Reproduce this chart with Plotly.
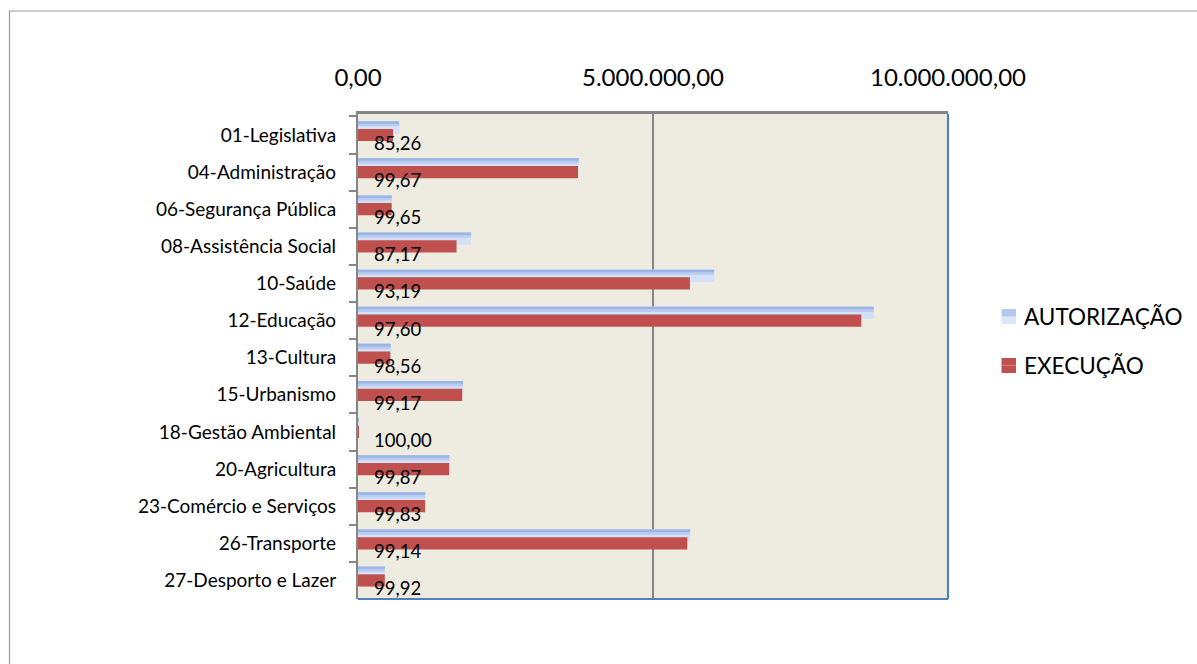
import plotly.graph_objects as go

categories = [
    "01-Legislativa", "04-Administração", "06-Segurança Pública",
    "08-Assistência Social", "10-Saúde", "12-Educação", "13-Cultura",
    "15-Urbanismo", "18-Gestão Ambiental", "20-Agricultura",
    "23-Comércio e Serviços", "26-Transporte", "27-Desporto e Lazer",
]
autorizacao = [697000, 3741000, 573000, 1916000, 6037000, 8741000, 556000,
               1781000, 1500, 1548000, 1139000, 5629000, 454000]
execucao = [594000, 3729000, 571000, 1670000, 5626000, 8531000, 548000,
            1766000, 1500, 1546000, 1137000, 5581000, 454000]
percentuais = ["85,26", "99,67", "99,65", "87,17", "93,19", "97,60", "98,56",
               "99,17", "100,00", "99,87", "99,83", "99,14", "99,92"]
x_ticks = [0, 5000000, 10000000]
x_tick_labels = ["0,00", "5.000.000,00", "10.000.000,00"]
series_names = ["AUTORIZAÇÃO", "EXECUÇÃO"]

FONT = "Lato"
GRAY = "#868686"
BLUE_EDGE = "#4f81bd"
RED = "#c0504d"

W, H = 1197, 664
L, R, T, B = 358, 249, 114, 65
pw, ph = W - L - R, H - T - B

def px_x(p):
    return (p - L) / pw

def px_y(p):
    return (H - B - p) / ph

fig = go.Figure()

# AUTORIZAÇÃO bar (gradient simulated with stacked strips)
fig.add_trace(go.Bar(
    y=categories, x=autorizacao, orientation="h", name=series_names[0],
    marker=dict(color="#d3e0f6", line=dict(width=0)),
    offset=-0.373, width=0.33, showlegend=False, hoverinfo="x+name",
))
fig.add_trace(go.Bar(
    y=categories, x=autorizacao, orientation="h", showlegend=False,
    marker=dict(color="#b9ccf0", line=dict(width=0)),
    offset=-0.373, width=0.14, hoverinfo="skip",
))
fig.add_trace(go.Bar(
    y=categories, x=autorizacao, orientation="h", showlegend=False,
    marker=dict(color="#9bb6e6", line=dict(width=0)),
    offset=-0.373, width=0.07, hoverinfo="skip",
))
# EXECUÇÃO bar
fig.add_trace(go.Bar(
    y=categories, x=execucao, orientation="h", name=series_names[1],
    marker=dict(color=RED, line=dict(width=0)),
    offset=-0.165, width=0.33, showlegend=False, hoverinfo="x+name",
))

annotations = []
for cat, pct in zip(categories, percentuais):
    annotations.append(dict(
        x=0, y=cat, xref="x", yref="y", text=pct, showarrow=False,
        xanchor="left", yanchor="middle", xshift=14, yshift=-8,
        font=dict(family=FONT, size=18.5, color="#000000"),
    ))

# legend (drawn as shapes + text)
legend_rows = [(316.5, "#b3c8ef", "#dbe6f8"), (365.5, RED, RED)]
shapes = []
for (cy, c_top, c_bot), name in zip(legend_rows, series_names):
    shapes.append(dict(type="rect", xref="paper", yref="paper",
                       x0=px_x(1001.5), x1=px_x(1016), y0=px_y(cy + 7.5), y1=px_y(cy),
                       line=dict(width=0), fillcolor=c_bot))
    shapes.append(dict(type="rect", xref="paper", yref="paper",
                       x0=px_x(1001.5), x1=px_x(1016), y0=px_y(cy), y1=px_y(cy - 7.5),
                       line=dict(width=0), fillcolor=c_top))
    annotations.append(dict(
        x=px_x(1022), y=px_y(cy), xref="paper", yref="paper", text=name,
        showarrow=False, xanchor="left", yanchor="middle",
        font=dict(family=FONT, size=22.5, color="#000000"),
    ))

shapes += [
    # outer chart border
    dict(type="rect", xref="paper", yref="paper",
         x0=px_x(9.5), x1=px_x(1210), y0=px_y(11), y1=px_y(690),
         line=dict(color="#9a9a9a", width=1.2), fillcolor="rgba(0,0,0,0)",
         layer="below"),
    # right and bottom blue edges of plot area
    dict(type="line", xref="paper", yref="paper", x0=1, x1=1, y0=0, y1=1,
         line=dict(color=BLUE_EDGE, width=2.2)),
    dict(type="line", xref="paper", yref="paper", x0=0, x1=1, y0=0, y1=0,
         line=dict(color=BLUE_EDGE, width=2.2)),
]

fig.update_layout(
    width=W, height=H,
    margin=dict(l=L, r=R, t=T, b=B),
    paper_bgcolor="#ffffff",
    plot_bgcolor="#eeece1",
    barmode="overlay",
    font=dict(family=FONT, color="#000000"),
    showlegend=False,
    annotations=annotations,
    shapes=shapes,
    xaxis=dict(
        range=[0, 10000000], side="top",
        tickvals=x_ticks, ticktext=x_tick_labels,
        tickfont=dict(family=FONT, size=24, color="#000000"),
        showgrid=True, gridcolor=GRAY, gridwidth=2,
        zeroline=False, showline=True, linecolor=GRAY, linewidth=2.5,
        ticks="", ticklabelstandoff=16, fixedrange=True,
    ),
    yaxis=dict(
        type="category", categoryorder="array", categoryarray=categories,
        autorange="reversed", tickson="boundaries",
        ticks="outside", ticklen=7, tickcolor=GRAY, tickwidth=1.5,
        showline=True, linecolor=GRAY, linewidth=2.2,
        showgrid=False, zeroline=False,
        tickfont=dict(family=FONT, size=19, color="#000000"),
        ticklabelstandoff=16, fixedrange=True,
    ),
)

fig.write_html("out.html", config={"displayModeBar": False},
               post_script="document.body.style.margin='0px';")
